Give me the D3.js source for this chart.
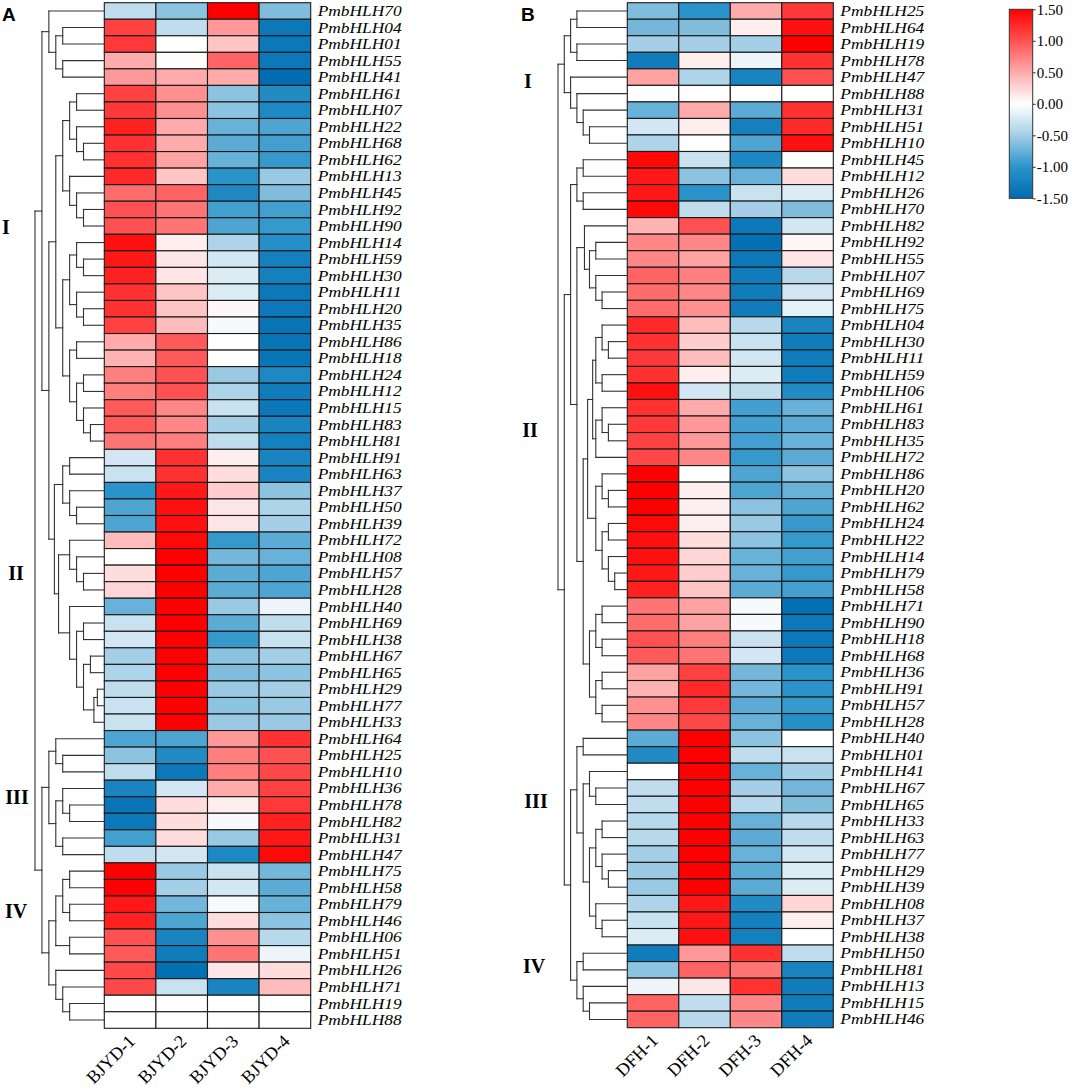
<!DOCTYPE html>
<html><head><meta charset="utf-8">
<script src="https://cdn.jsdelivr.net/npm/d3@7/dist/d3.min.js"></script>
<style>body{margin:0;background:#fff}</style>
</head><body><svg id="c" width="1072" height="1092"></svg>
<script>
// ---------------- DATA ----------------
const rowsA = ["70","04","01","55","41","61","07","22","68","62","13","45","92","90","14","59","30","11","20","35","86","18","24","12","15","83","81","91","63","37","50","39","72","08","57","28","40","69","38","67","65","29","77","33","64","25","10","36","78","82","31","47","75","58","79","46","06","51","26","71","19","88"];
const colsA = ["BJYD-1","BJYD-2","BJYD-3","BJYD-4"];
const bjyd1 = [-0.35,1.1,1.15,0.5,0.6,1.1,1.15,1.3,1.2,1.2,1.25,0.85,1.0,1.0,1.4,1.35,1.3,1.2,1.2,1.1,0.5,0.45,0.75,0.75,0.95,0.95,0.8,-0.25,-0.3,-1.0,-0.85,-0.85,0.4,0.0,0.2,0.25,-0.75,-0.3,-0.25,-0.5,-0.45,-0.35,-0.3,-0.3,-0.85,-0.6,-0.35,-1.2,-1.4,-1.35,-0.9,-0.35,1.5,1.5,1.35,1.3,1.0,0.95,1.05,1.05,0,0];
const bjyd2 = [-0.6,-0.35,0.0,0.02,0.5,0.65,0.65,0.5,0.5,0.55,0.35,0.9,0.8,0.8,0.1,0.15,0.15,0.35,0.35,0.4,0.95,0.95,1.0,1.0,0.7,0.7,0.75,1.2,1.2,1.35,1.4,1.4,1.45,1.5,1.5,1.5,1.5,1.5,1.5,1.5,1.5,1.5,1.5,1.5,-0.85,-1.1,-1.35,-0.25,0.2,0.2,0.2,-0.25,-0.55,-0.5,-0.7,-0.85,-1.2,-1.3,-1.45,-0.3,0,0];
const bjyd3 = [1.5,0.6,0.35,0.9,0.5,-0.6,-0.6,-0.75,-0.8,-0.75,-1.0,-1.15,-0.9,-0.85,-0.45,-0.25,-0.2,-0.2,0.05,-0.05,0.0,0.0,-0.55,-0.45,-0.3,-0.5,-0.35,0.1,0.2,0.3,0.15,0.15,-0.95,-0.7,-0.8,-0.8,-0.55,-0.8,-0.95,-0.6,-0.65,-0.55,-0.6,-0.55,0.6,0.75,0.75,0.5,0.1,-0.05,-0.55,-1.15,-0.3,-0.25,-0.05,0.2,0.65,0.8,0.15,-1.2,0,0];
const bjyd4 = [-0.65,-1.35,-1.35,-1.35,-1.5,-1.1,-1.15,-0.85,-0.9,-0.95,-0.55,-0.65,-0.9,-0.95,-1.05,-1.25,-1.25,-1.35,-1.35,-1.4,-1.4,-1.4,-1.15,-1.3,-1.35,-1.2,-1.25,-1.2,-1.2,-0.6,-0.45,-0.5,-0.8,-0.75,-0.85,-0.85,-0.1,-0.35,-0.3,-0.5,-0.6,-0.5,-0.55,-0.55,1.2,1.0,1.05,1.1,1.15,1.3,1.35,1.45,-0.7,-0.8,-0.75,-0.6,-0.4,-0.1,0.2,0.4,0,0];

const rowsB = ["25","64","19","78","47","88","31","51","10","45","12","26","70","82","92","55","07","69","75","04","30","11","59","06","61","83","35","72","86","20","62","24","22","14","79","58","71","90","18","68","36","91","57","28","40","01","41","67","65","33","63","77","29","39","08","37","38","50","81","13","15","46"];
const colsB = ["DFH-1","DFH-2","DFH-3","DFH-4"];
const dfh1 = [-0.65,-0.7,-0.5,-1.3,0.55,0,-0.75,-0.25,-0.45,1.45,1.35,1.35,1.45,0.45,0.7,0.7,0.9,0.85,0.85,1.25,1.2,1.15,1.2,1.4,1.2,1.15,1.1,1.05,1.5,1.5,1.5,1.45,1.4,1.4,1.35,1.3,0.8,0.85,1.0,0.95,0.55,0.45,0.65,0.7,-0.8,-1.1,0.0,-0.35,-0.35,-0.4,-0.4,-0.5,-0.55,-0.55,-0.45,-0.3,-0.2,-1.3,-0.6,-0.1,0.9,0.9];
const dfh2 = [-1.0,-0.65,-0.5,0.1,-0.45,0,0.5,0.1,0.0,-0.3,-0.6,-1.0,-0.35,1.0,0.7,0.55,0.75,0.7,0.65,0.4,0.3,0.4,0.1,-0.25,0.5,0.6,0.6,0.7,0.0,0.1,0.1,0.1,0.2,0.25,0.3,0.35,0.55,0.55,0.75,0.8,1.1,1.25,1.15,1.05,1.5,1.5,1.5,1.5,1.5,1.5,1.5,1.5,1.5,1.5,1.35,1.35,1.4,0.6,0.9,0.15,-0.35,-0.4];
const dfh3 = [0.5,0.1,-0.5,-0.1,-1.2,0,-0.8,-1.25,-0.85,-1.15,-0.75,-0.3,-0.5,-1.35,-1.45,-1.35,-1.3,-1.3,-1.3,-0.4,-0.3,-0.25,-0.2,-0.35,-0.9,-0.9,-0.9,-0.95,-0.85,-0.85,-0.6,-0.55,-0.6,-0.75,-0.75,-0.8,-0.05,-0.05,-0.3,-0.25,-0.7,-0.7,-0.8,-0.75,-0.6,-0.35,-0.75,-0.5,-0.4,-0.75,-0.8,-0.75,-0.8,-0.8,-1.1,-1.25,-1.25,1.2,0.8,1.2,0.7,0.7];
const dfh4 = [1.15,1.4,1.5,1.2,1.0,0,1.2,1.25,1.4,0.0,0.2,-0.2,-0.65,-0.25,0.05,0.15,-0.4,-0.25,-0.15,-1.2,-1.3,-1.3,-1.3,-1.1,-0.75,-0.8,-0.75,-0.8,-0.6,-0.75,-0.85,-0.95,-0.95,-0.9,-0.95,-0.9,-1.45,-1.35,-1.35,-1.35,-1.0,-1.0,-0.95,-1.05,0.0,-0.3,-0.5,-0.7,-0.65,-0.4,-0.35,-0.25,-0.2,-0.2,0.25,0.1,0.0,-0.35,-1.2,-1.3,-1.3,-1.3];

// dendrograms: [height, left, right], leaves = row ids
const treeA = [10,
  [9, [8,"70",[7,[6,"04","01"],[6,"55","41"]]],
      [8, [7, [6,[5,[4,"61","07"],[4,"22",[3,"68","62"]]],[5,"13",[4,"45",[3,"92","90"]]]],
              [6,[5,[4,"14",[3,"59","30"]],[4,"11",[3,"20","35"]]],[5,[4,"86","18"],[4,[3,"24","12"],[3,"15",[2,"83","81"]]]]]],
          [7.2, [6,[5,"91","63"],[5,"37",[4,"50","39"]]],
                [6.6, [5,"72",[4,"08",[3,"57","28"]]],
                      [5,"40",[4,[3,"69","38"],[3,[2,"67","65"],[1.5,[1,"29","77"],"33"]]]]]]]],
  [9, [8,[7,"64",[6,"25","10"]],[7,[6,"36",[5,"78","82"]],[6,"31","47"]]],
      [8,[7,[6,[5,"75","58"],[5,"79","46"]],[5,"06","51"]],[7,"26",[6,"71",[5,"19","88"]]]]]];

const treeB = [11,
  [10,[9,[8,"25","64"],[8,"19","78"]],[9,"47",[8,"88",[7,"31",[6,"51","10"]]]]],
  [10,
    [9, [8,[7,"45","12"],[7,"26","70"]],
        [8, [6.8,"82",[6,[5,"92","55"],[5,"07",[4,"69","75"]]]],
            [7, [6.3, [5.5,[5,[4,"04",[3,"30","11"]],[4,"59","06"]],[5,[4,"61",[3,"83","35"]],"72"]],
                      [5,[4,"86",[3,"20","62"]],[4,[3,"24","22"],[3,"14",[2,"79","58"]]]]],
                [6,[5,[4,"71","90"],[4,"18","68"]],[5,[4,"36","91"],[4,"57","28"]]]]]],
    [9, [8,[7,"40","01"],[7,[6,"41",[5,"67","65"]],[6,[5,[4,"33","63"],[4,"77",[3,"29","39"]]],[5,"08",[4,"37","38"]]]]],
        [8,[7,"50","81"],[7,"13",[6,"15","46"]]]]]];

const clusterNames = ["I","II","III","IV"];
const legendTicks = [1.5,1.0,0.5,0.0,-0.5,-1.0,-1.5];

// ---------------- DRAW ----------------
const svg = d3.select("#c");
const color = d3.scaleLinear()
  .domain([-1.5,-1.0,-0.5,0,0.5,1.0,1.5])
  .range(["#006db2","#2a93c9","#a5cfe6","#ffffff","#ffabab","#ff5151","#ff0000"])
  .clamp(true);

const serif = "'Liberation Serif','Times New Roman',serif";
const sans = "'Liberation Sans',Arial,sans-serif";

function toNode(a){
  return (typeof a === "string") ? {name:a, h:0} : {h:a[0], children:[toNode(a[1]), toNode(a[2])]};
}

function drawPanel(cfg){
  const g = svg.append("g");
  const y = d3.scaleBand().domain(cfg.rows).range([cfg.top, cfg.bottom]);
  const x = d3.scaleBand().domain(cfg.cols).range([cfg.left, cfg.right]);
  // cells
  cfg.rows.forEach((r,i)=>{
    cfg.cols.forEach((c,j)=>{
      g.append("rect")
        .attr("x", x(c)).attr("y", y(r))
        .attr("width", x.bandwidth()).attr("height", y.bandwidth())
        .attr("fill", color(cfg.series[j][i]))
        .attr("stroke", "#1a1a1a").attr("stroke-width", 1.1);
    });
  });
  // row labels
  g.selectAll("text.rl").data(cfg.rows).join("text")
    .attr("x", cfg.right + 7)
    .attr("y", d => y(d) + y.bandwidth()/2)
    .attr("dy", "0.34em")
    .attr("font-family", serif).attr("font-style","italic").attr("font-size", 14.8)
    .attr("textLength", 84).attr("lengthAdjust","spacingAndGlyphs")
    .attr("fill","#000")
    .text(d => "PmbHLH" + d);
  // column labels
  g.selectAll("text.cl").data(cfg.cols).join("text")
    .attr("transform", d => `translate(${x(d) + x.bandwidth()/2 + 6},${cfg.bottom + 14}) rotate(-45)`)
    .attr("text-anchor","end")
    .attr("font-family", serif).attr("font-size", 18).attr("fill","#000")
    .text(d => d);
  // dendrogram
  const root = d3.hierarchy(toNode(cfg.tree));
  const hx = d3.scaleLinear().domain([0, cfg.tree[0]]).range([cfg.left, cfg.rootX]);
  root.eachAfter(n => {
    if (!n.children) n.yy = y(n.data.name) + y.bandwidth()/2;
    else n.yy = (n.children[0].yy + n.children[n.children.length-1].yy)/2;
  });
  const lines = [];
  root.each(n => {
    if (n.children){
      const px = hx(n.data.h);
      lines.push([px, n.children[0].yy, px, n.children[1].yy]);
      n.children.forEach(c => lines.push([px, c.yy, hx(c.data.h), c.yy]));
    }
  });
  g.selectAll("line.dl").data(lines).join("line")
    .attr("x1", d=>d[0]).attr("y1", d=>d[1]).attr("x2", d=>d[2]).attr("y2", d=>d[3])
    .attr("stroke","#333").attr("stroke-width",1.1).attr("stroke-linecap","square");
  // cluster labels
  g.selectAll("text.cn").data(clusterNames).join("text")
    .attr("x", (d,i)=>cfg.clusterPos[i][0]).attr("y", (d,i)=>cfg.clusterPos[i][1])
    .attr("dy","0.35em").attr("text-anchor","middle")
    .attr("font-family", serif).attr("font-weight","bold").attr("font-size", 20)
    .text(d=>d);
  // panel letter
  g.append("text").attr("x", cfg.letterX).attr("y", 21)
    .attr("font-family", sans).attr("font-weight","bold").attr("font-size", 19)
    .text(cfg.letter);
}

drawPanel({rows: rowsA, cols: colsA, series:[bjyd1,bjyd2,bjyd3,bjyd4], tree: treeA,
  top: 2.7, bottom: 1028.3, left: 104.3, right: 310.7, rootX: 35,
  clusterPos: [[6,227],[16,573],[17,797],[16,911]], letter:"A", letterX: 2});
drawPanel({rows: rowsB, cols: colsB, series:[dfh1,dfh2,dfh3,dfh4], tree: treeB,
  top: 2.7, bottom: 1027.7, left: 627.3, right: 833.3, rootX: 558,
  clusterPos: [[528,81],[530,430],[536,801],[534,966]], letter:"B", letterX: 521});

// legend
const lg = svg.append("g");
const ly = d3.scaleLinear().domain([-1.5,1.5]).range([198.3, 9.3]);
const defs = svg.append("defs");
const grad = defs.append("linearGradient").attr("id","lgrad")
  .attr("x1","0").attr("y1","1").attr("x2","0").attr("y2","0");
d3.range(0, 1.0001, 0.05).forEach(t => {
  grad.append("stop").attr("offset", t).attr("stop-color", color(-1.5 + 3*t));
});
lg.append("rect").attr("x",1009.3).attr("y",9.3).attr("width",23.4).attr("height",189)
  .attr("fill","url(#lgrad)").attr("stroke","#333").attr("stroke-width",1);
const fmt = d3.format(".2f");
const ax = lg.append("g").attr("transform","translate(1032.7,0)")
  .call(d3.axisRight(ly).tickValues(legendTicks).tickFormat(d => fmt(d).replace("\u2212","-")).tickSize(3).tickPadding(1));
ax.select(".domain").remove();
ax.selectAll("text").attr("font-family", serif).attr("font-size", 15).attr("fill","#000");
ax.selectAll("line").attr("stroke","#333");
</script>
</body></html>
